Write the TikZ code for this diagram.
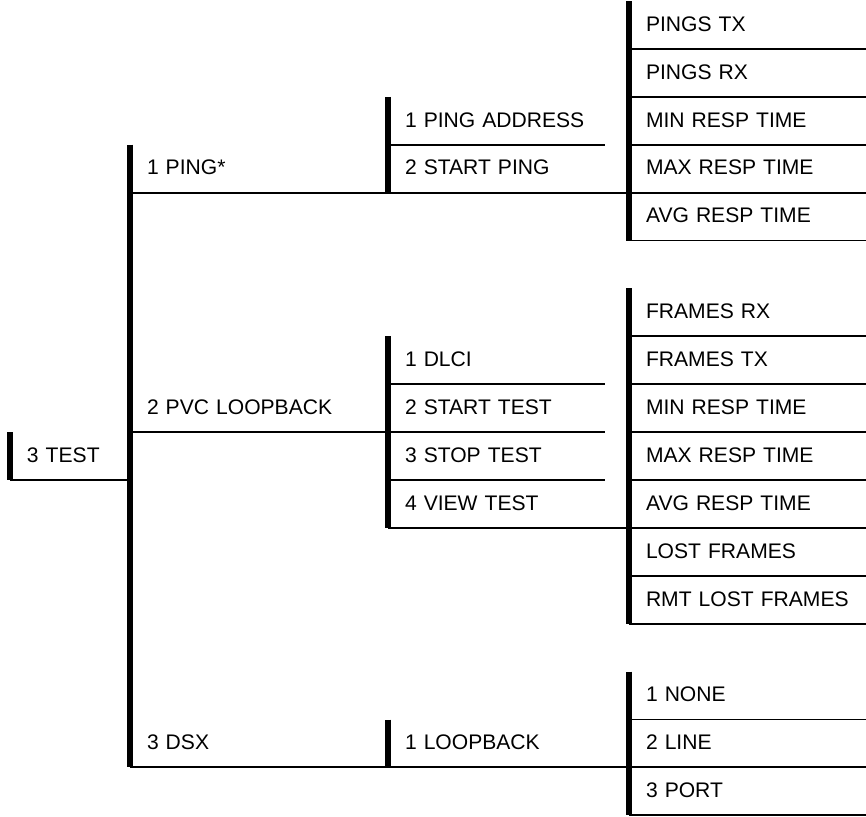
\documentclass[tikz,border=0pt]{standalone}
\usepackage{fontspec}
\setmainfont{Liberation Sans}

\begin{document}
\begin{tikzpicture}[y=0.958cm,
        item/.style={anchor=north west, inner xsep=0.34cm, inner ysep=0pt, outer sep=0pt,
            minimum height=0.958cm, text height=8.6pt, text depth=1.4pt, align=left,
            font=\fontsize{12}{14}\selectfont},
        topcol/.style={item, text width=1.72cm},
        maincol/.style={item, text width=4.48cm},
        subcol/.style={item, text width=3.66cm},
        resultcol/.style={item, text width=4.06cm},
        sep/.style={line width=1.1pt},
        bar/.style={line width=3.4pt}]
        \useasboundingbox (0,0.021) rectangle (17.32,-17.035);

        % we place the top menu and its three entries
        \node[topcol] (test) at (0.2,-9) {3 TEST};
        \node[maincol] (ping) at (2.6,-3) {1 PING*};
        \node[maincol] (pvc) at (2.6,-8) {2 PVC LOOPBACK};
        \node[maincol] (dsx) at (2.6,-15) {3 DSX};

        % ping submenu and its results
        \node[subcol] (pingaddr) at (7.76,-2) {1 PING ADDRESS};
        \node[subcol] (startping) at (7.76,-3) {2 START PING};
        \node[resultcol] (ptx) at (12.58,0) {PINGS TX};
        \node[resultcol] (prx) at (12.58,-1) {PINGS RX};
        \node[resultcol] (pmin) at (12.58,-2) {MIN RESP TIME};
        \node[resultcol] (pmax) at (12.58,-3) {MAX RESP TIME};
        \node[resultcol] (pavg) at (12.58,-4) {AVG RESP TIME};

        % pvc loopback submenu and its results
        \node[subcol] (dlci) at (7.76,-7) {1 DLCI};
        \node[subcol] (starttest) at (7.76,-8) {2 START TEST};
        \node[subcol] (stoptest) at (7.76,-9) {3 STOP TEST};
        \node[subcol] (viewtest) at (7.76,-10) {4 VIEW TEST};
        \node[resultcol] (frx) at (12.58,-6) {FRAMES RX};
        \node[resultcol] (ftx) at (12.58,-7) {FRAMES TX};
        \node[resultcol] (fmin) at (12.58,-8) {MIN RESP TIME};
        \node[resultcol] (fmax) at (12.58,-9) {MAX RESP TIME};
        \node[resultcol] (favg) at (12.58,-10) {AVG RESP TIME};
        \node[resultcol] (flost) at (12.58,-11) {LOST FRAMES};
        \node[resultcol] (frmt) at (12.58,-12) {RMT LOST FRAMES};

        % dsx submenu and its choices
        \node[subcol] (loopback) at (7.76,-15) {1 LOOPBACK};
        \node[resultcol] (dnone) at (12.58,-14) {1 NONE};
        \node[resultcol] (dline) at (12.58,-15) {2 LINE};
        \node[resultcol] (dport) at (12.58,-16) {3 PORT};

        % we draw the thin lines under the entries
        \draw[sep] (test.south west) -- (test.south east);
        \draw[sep] (ping.south west) -- (ping.south east);
        \draw[sep] (pvc.south west) -- (pvc.south east);
        \draw[sep] (dsx.south west) -- (dsx.south east);
        \draw[sep] (pingaddr.south west) -- (pingaddr.south east);
        \draw[sep] (startping.south west) -- (pmax.south west);
        \draw[sep] (dlci.south west) -- (dlci.south east);
        \draw[sep] (starttest.south west) -- (starttest.south east);
        \draw[sep] (stoptest.south west) -- (stoptest.south east);
        \draw[sep] (viewtest.south west) -- (favg.south west);
        \draw[sep] (loopback.south west) -- (dline.south west);
        \draw[sep] (ptx.south west) -- (ptx.south east);
        \draw[sep] (prx.south west) -- (prx.south east);
        \draw[sep] (pmin.south west) -- (pmin.south east);
        \draw[sep] (pmax.south west) -- (pmax.south east);
        \draw[sep] (pavg.south west) -- (pavg.south east);
        \draw[sep] (frx.south west) -- (frx.south east);
        \draw[sep] (ftx.south west) -- (ftx.south east);
        \draw[sep] (fmin.south west) -- (fmin.south east);
        \draw[sep] (fmax.south west) -- (fmax.south east);
        \draw[sep] (favg.south west) -- (favg.south east);
        \draw[sep] (flost.south west) -- (flost.south east);
        \draw[sep] (frmt.south west) -- (frmt.south east);
        \draw[sep] (dnone.south west) -- (dnone.south east);
        \draw[sep] (dline.south west) -- (dline.south east);
        \draw[sep] (dport.south west) -- (dport.south east);

        % we draw the thick bars on the left of each menu
        \draw[bar] (test.north west) -- (test.south west);
        \draw[bar] (ping.north west) -- (dsx.south west);
        \draw[bar] (pingaddr.north west) -- (startping.south west);
        \draw[bar] (dlci.north west) -- (viewtest.south west);
        \draw[bar] (loopback.north west) -- (loopback.south west);
        \draw[bar] (ptx.north west) -- (pavg.south west);
        \draw[bar] (frx.north west) -- (frmt.south west);
        \draw[bar] (dnone.north west) -- (dport.south west);
    \end{tikzpicture}
\end{document}
